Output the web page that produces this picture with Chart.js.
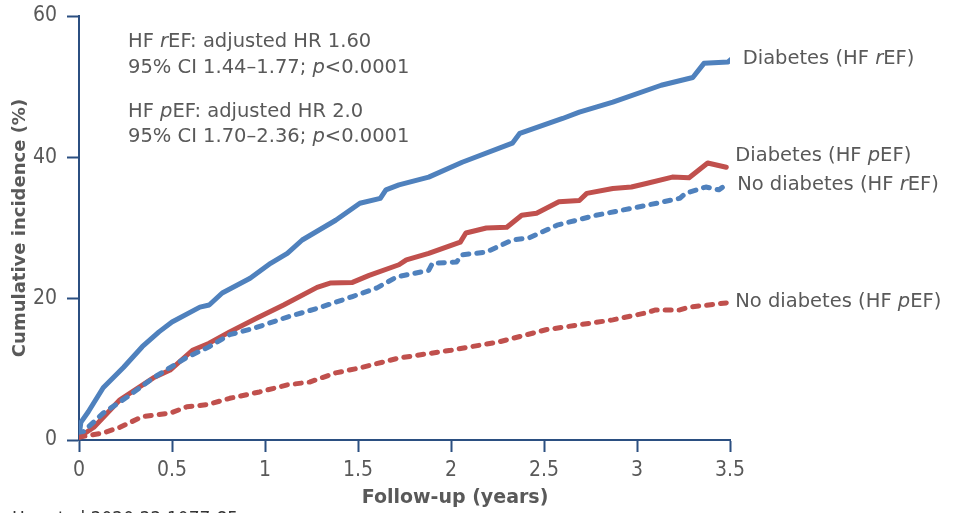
<!DOCTYPE html>
<html>
<head>
<meta charset="utf-8">
<script src="https://cdn.jsdelivr.net/npm/chart.js@4.4.1/dist/chart.umd.min.js"></script>
<style>
  html, body { margin: 0; padding: 0; background: #fff; }
  #wrap { width: 962px; height: 513px; position: relative; }
</style>
</head>
<body>
<div id="wrap"><canvas id="chart"></canvas></div>
<script>
const COLORS = {
    blue: "#4F81BD",
    red: "#C0504D",
    axis: "#2B4F81",
    text: "#595959",
};
const FONT = "'DejaVu Sans', sans-serif";
const TICK_FONT = "'Liberation Sans Narrow', 'DejaVu Sans Condensed', sans-serif";

// x tick values (years) and y tick values (%)
const xTicks = [0, 0.5, 1, 1.5, 2, 2.5, 3, 3.5];
const yTicks = [0, 20, 40, 60];

// Diabetes (HF rEF) - blue solid
const diabRefX = [0, 0.01, 0.05, 0.13, 0.24, 0.34, 0.43, 0.5, 0.65, 0.7, 0.77, 0.92, 1.03, 1.12, 1.2, 1.38, 1.51, 1.62, 1.65, 1.72, 1.88, 2.06, 2.33, 2.37, 2.6, 2.69, 2.87, 3.13, 3.3, 3.36, 3.49, 3.52];
const diabRefY = [0.5, 2.5, 4.0, 7.4, 10.3, 13.2, 15.3, 16.7, 18.8, 19.1, 20.8, 22.9, 25.0, 26.4, 28.3, 31.1, 33.5, 34.2, 35.4, 36.1, 37.2, 39.3, 42.0, 43.4, 45.5, 46.4, 47.8, 50.2, 51.3, 53.3, 53.5, 54.2];

// Diabetes (HF pEF) - red solid
const diabPefX = [0, 0.08, 0.22, 0.4, 0.49, 0.61, 0.7, 0.81, 0.96, 1.1, 1.28, 1.35, 1.47, 1.56, 1.72, 1.76, 1.88, 2.05, 2.08, 2.19, 2.3, 2.38, 2.46, 2.58, 2.69, 2.73, 2.87, 2.97, 3.05, 3.19, 3.28, 3.38, 3.48];
const diabPefY = [0.4, 1.8, 5.7, 8.8, 9.9, 12.7, 13.7, 15.3, 17.3, 19.1, 21.6, 22.2, 22.3, 23.3, 24.8, 25.5, 26.4, 28.0, 29.3, 30.0, 30.1, 31.8, 32.1, 33.7, 33.9, 34.9, 35.6, 35.8, 36.3, 37.2, 37.1, 39.2, 38.6];

// No diabetes (HF rEF) - blue dashed
const noDiabRefX = [0, 0.13, 0.26, 0.4, 0.58, 0.7, 0.81, 0.94, 1.12, 1.29, 1.47, 1.6, 1.71, 1.88, 1.9, 2.03, 2.06, 2.19, 2.33, 2.42, 2.57, 2.78, 3.05, 3.23, 3.26, 3.37, 3.44, 3.49];
const noDiabRefY = [0.6, 3.8, 6.1, 8.8, 11.7, 13.2, 14.9, 15.8, 17.4, 18.7, 20.3, 21.5, 23.1, 24.0, 25.0, 25.2, 26.2, 26.6, 28.3, 28.6, 30.4, 31.8, 33.2, 34.2, 34.9, 35.8, 35.4, 36.3];

// No diabetes (HF pEF) - red dashed
const noDiabPefX = [0, 0.13, 0.22, 0.34, 0.49, 0.58, 0.69, 0.81, 0.97, 1.12, 1.24, 1.38, 1.51, 1.72, 2.0, 2.26, 2.51, 2.69, 2.87, 3.05, 3.1, 3.23, 3.28, 3.48];
const noDiabPefY = [0.4, 1.0, 1.8, 3.3, 3.8, 4.7, 5.0, 5.9, 6.8, 7.8, 8.2, 9.5, 10.2, 11.6, 12.7, 13.9, 15.6, 16.3, 17.0, 18.0, 18.4, 18.4, 18.8, 19.4];

// end-of-line labels, anchored at each line's last point
const endLabels = [
    { parts: [["Diabetes (HF ", false], ["r", true], ["EF)", false]], x: 3.52, y: 54.2, dx: 9, dy: 2 },
    { parts: [["Diabetes (HF ", false], ["p", true], ["EF)", false]], x: 3.48, y: 38.6, dx: 9, dy: -11 },
    { parts: [["No diabetes (HF ", false], ["r", true], ["EF)", false]], x: 3.49, y: 36.3, dx: 9, dy: 1 },
    { parts: [["No diabetes (HF ", false], ["p", true], ["EF)", false]], x: 3.48, y: 19.4, dx: 9, dy: -1 },
];

const statLines = [
    [["HF ", false], ["r", true], ["EF: adjusted HR 1.60", false]],
    [["95% CI 1.44\u20131.77; ", false], ["p", true], ["<0.0001", false]],
    [["HF ", false], ["p", true], ["EF: adjusted HR 2.0", false]],
    [["95% CI 1.70\u20132.36; ", false], ["p", true], ["<0.0001", false]],
];

function toPoints(xs, ys) {
    return xs.map((x, i) => ({ x, y: ys[i] }));
}

function drawRich(ctx, parts, x, y, size) {
    let cx = x;
    parts.forEach(([t, it]) => {
        ctx.font = (it ? "italic " : "") + size + "px " + FONT;
        ctx.fillText(t, cx, y);
        cx += ctx.measureText(t).width;
    });
}

const textPlugin = {
    id: "textPlugin",
    afterDraw(chart) {
        const ctx = chart.ctx;
        const xs = chart.scales.x, ys = chart.scales.y;
        ctx.save();
        ctx.fillStyle = COLORS.text;
        ctx.textBaseline = "middle";
        ctx.textAlign = "left";
        // hazard ratio annotations
        const rows = [42, 68, 112, 137];
        statLines.forEach((p, i) => drawRich(ctx, p, 128, rows[i], 19.5));
        // line end labels
        endLabels.forEach(l => {
            drawRich(ctx, l.parts, xs.getPixelForValue(l.x) + l.dx, ys.getPixelForValue(l.y) + l.dy, 19.5);
        });
        // x axis title
        ctx.font = "bold 19px " + FONT;
        ctx.textAlign = "center";
        ctx.fillText("Follow-up (years)", 455, 498);
        // source (cut off at bottom)
        ctx.font = "17px " + FONT;
        ctx.textAlign = "left";
        ctx.fillStyle = "#333";
        ctx.fillText("Her et al 2020;22:1077-85", 12, 520);
        ctx.restore();
    },
};

function lineDs(label, xs, ys, color, dashed) {
    return {
        label,
        data: toPoints(xs, ys),
        borderColor: color,
        backgroundColor: color,
        borderWidth: 5,
        borderDash: dashed ? [6, 8] : [],
        borderCapStyle: "round",
        borderJoinStyle: "round",
        pointRadius: 0,
        tension: 0,
        fill: false,
    };
}

new Chart(document.getElementById("chart"), {
    type: "line",
    data: {
        datasets: [
            lineDs("No diabetes (HF pEF)", noDiabPefX, noDiabPefY, COLORS.red, true),
            lineDs("No diabetes (HF rEF)", noDiabRefX, noDiabRefY, COLORS.blue, true),
            lineDs("Diabetes (HF pEF)", diabPefX, diabPefY, COLORS.red, false),
            lineDs("Diabetes (HF rEF)", diabRefX, diabRefY, COLORS.blue, false),
        ],
    },
    options: {
        responsive: true,
        maintainAspectRatio: false,
        animation: false,
        layout: { padding: { top: 16, right: 232, left: 0, bottom: 0 } },
        plugins: {
            legend: { display: false },
            tooltip: { enabled: false },
        },
        scales: {
            x: {
                type: "linear",
                min: 0,
                max: 3.5,
                afterBuildTicks: s => { s.ticks = xTicks.map(v => ({ value: v })); },
                afterFit: s => { s.height = 73; },
                ticks: {
                    callback: v => String(v),
                    font: { family: TICK_FONT, size: 21 },
                    color: COLORS.text,
                    padding: 6,
                    maxRotation: 0,
                },
                grid: { drawOnChartArea: false, drawTicks: true, tickLength: 12, tickWidth: 2, color: COLORS.axis },
                border: { color: COLORS.axis, width: 2 },
            },
            y: {
                min: 0,
                max: 60,
                afterBuildTicks: s => { s.ticks = yTicks.map(v => ({ value: v })); },
                afterFit: s => { s.width = 79; s.paddingTop = 0; s.paddingBottom = 0; },
                ticks: {
                    font: { family: TICK_FONT, size: 21 },
                    color: COLORS.text,
                    padding: 10,
                },
                grid: { drawOnChartArea: false, drawTicks: true, tickLength: 12, tickWidth: 2, color: COLORS.axis },
                border: { color: COLORS.axis, width: 2 },
                title: {
                    display: true,
                    text: "Cumulative incidence (%)",
                    color: COLORS.text,
                    font: { family: FONT, size: 18, weight: "bold" },
                    padding: { top: 10, bottom: 0 },
                },
            },
        },
    },
    plugins: [textPlugin],
});
</script>
</body>
</html>
